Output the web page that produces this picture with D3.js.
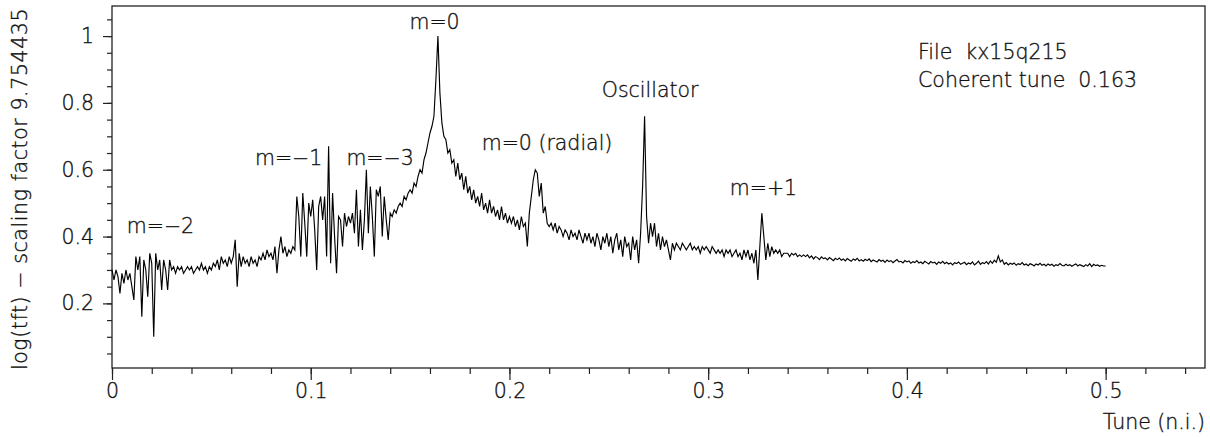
<!DOCTYPE html>
<html>
<head>
<meta charset="utf-8">
<script src="https://cdn.jsdelivr.net/npm/d3@7"></script>
<style>
body { margin: 0; background: #fff; }
text { font-family: "DejaVu Sans", sans-serif; font-weight: 200; fill: #111; stroke: #111; stroke-width: 0.35px; white-space: pre; }
</style>
</head>
<body>
<svg id="chart" width="1210" height="437"></svg>
<script>
// spectrum sampled every 0.001 in tune, from 0 to 0.5
var tuneStart = 0
var tuneStep = 0.001
var amplitude = [
	0.30, 0.27, 0.30, 0.28, 0.23, 0.29, 0.26, 0.30, 0.27, 0.29,
	0.25, 0.21, 0.34, 0.30, 0.34, 0.16, 0.33, 0.30, 0.22, 0.35,
	0.32, 0.10, 0.35, 0.30, 0.33, 0.24, 0.33, 0.30, 0.24, 0.33,
	0.30, 0.31, 0.29, 0.31, 0.30, 0.31, 0.29, 0.30, 0.31, 0.30,
	0.31, 0.29, 0.30, 0.31, 0.30, 0.32, 0.30, 0.31, 0.29, 0.31,
	0.30, 0.32, 0.31, 0.33, 0.30, 0.34, 0.32, 0.33, 0.31, 0.34,
	0.32, 0.34, 0.39, 0.25, 0.35, 0.31, 0.34, 0.32, 0.33, 0.31,
	0.34, 0.32, 0.33, 0.31, 0.34, 0.33, 0.35, 0.33, 0.36, 0.34,
	0.35, 0.33, 0.37, 0.29, 0.36, 0.40, 0.35, 0.37, 0.34, 0.36,
	0.35, 0.37, 0.36, 0.52, 0.46, 0.34, 0.53, 0.44, 0.34, 0.50,
	0.46, 0.51, 0.42, 0.30, 0.49, 0.52, 0.45, 0.52, 0.34, 0.67,
	0.32, 0.53, 0.40, 0.29, 0.46, 0.45, 0.37, 0.47, 0.43, 0.46,
	0.44, 0.47, 0.41, 0.54, 0.37, 0.48, 0.36, 0.45, 0.60, 0.41,
	0.55, 0.46, 0.34, 0.54, 0.52, 0.55, 0.40, 0.52, 0.45, 0.39,
	0.47, 0.46, 0.48, 0.47, 0.49, 0.50, 0.49, 0.52, 0.51, 0.53,
	0.54, 0.53, 0.56, 0.55, 0.58, 0.60, 0.59, 0.63, 0.65, 0.68,
	0.71, 0.73, 0.76, 0.87, 1.00, 0.83, 0.74, 0.70, 0.69, 0.65,
	0.66, 0.62, 0.63, 0.58, 0.62, 0.57, 0.59, 0.54, 0.58, 0.53,
	0.55, 0.51, 0.54, 0.50, 0.52, 0.49, 0.53, 0.48, 0.50, 0.47,
	0.51, 0.47, 0.49, 0.46, 0.48, 0.45, 0.49, 0.45, 0.47, 0.44,
	0.46, 0.44, 0.46, 0.43, 0.45, 0.42, 0.46, 0.43, 0.44, 0.37,
	0.47, 0.52, 0.57, 0.60, 0.59, 0.52, 0.56, 0.47, 0.49, 0.44,
	0.43, 0.44, 0.42, 0.44, 0.41, 0.43, 0.42, 0.40, 0.42, 0.41,
	0.39, 0.42, 0.40, 0.41, 0.39, 0.42, 0.40, 0.38, 0.41, 0.39,
	0.41, 0.38, 0.40, 0.37, 0.41, 0.39, 0.36, 0.40, 0.38, 0.41,
	0.37, 0.40, 0.35, 0.39, 0.41, 0.36, 0.39, 0.34, 0.40, 0.37,
	0.38, 0.33, 0.40, 0.36, 0.39, 0.32, 0.41, 0.55, 0.76, 0.46,
	0.38, 0.44, 0.40, 0.44, 0.37, 0.41, 0.36, 0.40, 0.37, 0.39,
	0.36, 0.33, 0.38, 0.36, 0.38, 0.37, 0.36, 0.38, 0.37, 0.36,
	0.37, 0.38, 0.36, 0.37, 0.36, 0.37, 0.35, 0.37, 0.36, 0.37,
	0.36, 0.35, 0.37, 0.36, 0.35, 0.36, 0.35, 0.36, 0.34, 0.36,
	0.35, 0.36, 0.34, 0.35, 0.36, 0.34, 0.35, 0.33, 0.36, 0.34,
	0.36, 0.33, 0.35, 0.32, 0.36, 0.27, 0.37, 0.47, 0.40, 0.33,
	0.38, 0.34, 0.37, 0.35, 0.36, 0.35, 0.36, 0.34, 0.35, 0.35,
	0.35, 0.34, 0.35, 0.345, 0.35, 0.34, 0.345, 0.34, 0.345, 0.34,
	0.345, 0.336, 0.342, 0.333, 0.340, 0.337, 0.331, 0.339, 0.334, 0.336,
	0.330, 0.337, 0.333, 0.328, 0.335, 0.331, 0.336, 0.329, 0.333, 0.327,
	0.334, 0.330, 0.326, 0.333, 0.329, 0.335, 0.327, 0.331, 0.326, 0.332,
	0.328, 0.333, 0.325, 0.330, 0.327, 0.324, 0.331, 0.326, 0.329, 0.323,
	0.330, 0.325, 0.328, 0.322, 0.327, 0.331, 0.324, 0.326, 0.321, 0.328,
	0.324, 0.327, 0.320, 0.325, 0.322, 0.328, 0.321, 0.324, 0.319, 0.326,
	0.322, 0.318, 0.325, 0.321, 0.323, 0.317, 0.324, 0.320, 0.326, 0.319,
	0.323, 0.318, 0.321, 0.315, 0.322, 0.319, 0.324, 0.317, 0.320, 0.323,
	0.316, 0.321, 0.318, 0.324, 0.315, 0.320, 0.326, 0.317, 0.322, 0.319,
	0.325, 0.318, 0.327, 0.320, 0.329, 0.323, 0.342, 0.324, 0.330, 0.317,
	0.322, 0.315, 0.320, 0.317, 0.321, 0.314, 0.319, 0.316, 0.322, 0.315,
	0.318, 0.313, 0.319, 0.316, 0.312, 0.318, 0.315, 0.320, 0.314, 0.317,
	0.312, 0.318, 0.314, 0.317, 0.311, 0.316, 0.313, 0.319, 0.314, 0.312,
	0.317, 0.313, 0.316, 0.311, 0.315, 0.318, 0.312, 0.316, 0.313, 0.310,
	0.316, 0.312, 0.319, 0.310, 0.317, 0.313, 0.315, 0.311, 0.314, 0.312,
	0.312
]

var xMajorTicks = [0, 0.1, 0.2, 0.3, 0.4, 0.5]
var xMajorLabels = ["0", "0.1", "0.2", "0.3", "0.4", "0.5"]
var yMajorTicks = [0.2, 0.4, 0.6, 0.8, 1]
var yMajorLabels = ["0.2", "0.4", "0.6", "0.8", "1"]

// peak annotations (tune, level of baseline)
var peakNames = ["m=\u22122", "m=\u22121", "m=\u22123", "m=0", "m=0 (radial)", "Oscillator", "m=+1"]
var peakTune  = [0.0244, 0.0889, 0.1349, 0.1623, 0.2189, 0.2708, 0.3278]
var peakLevel = [0.411, 0.614, 0.614, 1.021, 0.659, 0.8175, 0.524]

var infoLines = ["File  kx15q215", "Coherent tune  0.163"]
var infoLevel = [0.931, 0.8474]

var svg = d3.select("#chart")

var x = d3.scaleLinear().domain([0, 0.55]).range([112, 1205])
var y = d3.scaleLinear().domain([0.0066, 1.09]).range([368, 6])

// minor ticks
svg.append("g")
	.attr("transform", "translate(0,368)")
	.call(d3.axisBottom(x).tickValues(d3.range(0, 0.5501, 0.02)).tickSize(6).tickFormat(""))
	.call(function(g) { g.select(".domain").remove() })
svg.append("g")
	.attr("transform", "translate(112,0)")
	.call(d3.axisLeft(y).tickValues(d3.range(0.05, 1.0901, 0.05)).tickSize(5).tickFormat(""))
	.call(function(g) { g.select(".domain").remove() })

// major ticks
svg.append("g")
	.attr("class", "xaxis")
	.attr("transform", "translate(0,368)")
	.call(d3.axisBottom(x).tickValues(xMajorTicks).tickSize(12).tickPadding(3)
		.tickFormat(function(d, i) { return xMajorLabels[i] }))
	.call(function(g) { g.select(".domain").remove() })
svg.append("g")
	.attr("class", "yaxis")
	.attr("transform", "translate(112,0)")
	.call(d3.axisLeft(y).tickValues(yMajorTicks).tickSize(9).tickPadding(9)
		.tickFormat(function(d, i) { return yMajorLabels[i] }))
	.call(function(g) { g.select(".domain").remove() })

svg.selectAll(".tick line").attr("stroke", "#222").attr("stroke-width", 1.2)
svg.selectAll(".tick text")
	.attr("font-family", null)
	.attr("font-size", null)
	.attr("fill", null)
	.style("font-size", "20.5px")

// frame
svg.append("rect")
	.attr("x", x(0)).attr("y", y(1.09))
	.attr("width", x(0.55) - x(0)).attr("height", y(0.0066) - y(1.09))
	.attr("fill", "none").attr("stroke", "#222").attr("stroke-width", 1.3)

// spectrum
var line = d3.line()
	.x(function(d, i) { return x(tuneStart + i * tuneStep) })
	.y(function(d) { return y(d) })

svg.append("path")
	.datum(amplitude)
	.attr("d", line)
	.attr("fill", "none")
	.attr("stroke", "#000")
	.attr("stroke-width", 1.15)

// annotations
svg.selectAll(".peak")
	.data(peakNames)
	.enter().append("text")
	.attr("class", "peak")
	.attr("x", function(d, i) { return x(peakTune[i]) })
	.attr("y", function(d, i) { return y(peakLevel[i]) })
	.attr("text-anchor", "middle")
	.style("font-size", "20.5px")
	.text(function(d) { return d })

svg.selectAll(".info")
	.data(infoLines)
	.enter().append("text")
	.attr("class", "info")
	.attr("x", x(0.4056))
	.attr("y", function(d, i) { return y(infoLevel[i]) })
	.style("font-size", "20.5px")
	.text(function(d) { return d })

// axis titles
svg.append("text")
	.attr("x", 1205).attr("y", 429)
	.attr("text-anchor", "end")
	.style("font-size", "20.5px")
	.text("Tune (n.i.)")

svg.append("text")
	.attr("transform", "translate(27,189) rotate(-90)")
	.attr("text-anchor", "middle")
	.style("font-size", "20.5px")
	.style("letter-spacing", "0.6px")
	.text("log(tft) \u2212 scaling factor 9.754435")
</script>
</body>
</html>
